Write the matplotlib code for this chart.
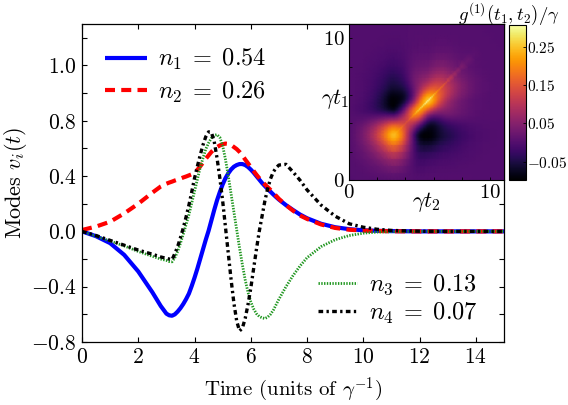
import numpy as np
import matplotlib
matplotlib.use("Agg")
import matplotlib.pyplot as plt

plt.rcParams.update({
    "font.family": "serif",
    "font.serif": ["cmr10", "DejaVu Serif"],
    "mathtext.fontset": "cm",
    "axes.unicode_minus": False,
    "axes.formatter.use_mathtext": True,
})

# ---------------- data ----------------
t = [0.0, 0.5, 1.0, 1.5, 2.0, 2.5, 2.8,
     3.0, 3.1, 3.2, 3.3, 3.4, 3.5, 3.6, 3.7, 3.8, 3.9,
     4.0, 4.1, 4.2, 4.3, 4.4, 4.5, 4.6, 4.7, 4.8, 4.9,
     5.0, 5.1, 5.2, 5.3, 5.4, 5.5, 5.6, 5.7, 5.8, 5.9,
     6.0, 6.1, 6.2, 6.3, 6.4, 6.5, 6.6, 6.7, 6.8, 6.9,
     7.0, 7.25, 7.5, 7.75, 8.0, 8.5, 9.0, 9.5, 10.0, 10.5, 11.0,
     12.0, 13.0, 14.0, 15.0]

mode1 = [0.0, -0.035, -0.085, -0.17, -0.29, -0.44, -0.54,
         -0.595, -0.607, -0.61, -0.60, -0.58, -0.555, -0.525, -0.49, -0.45, -0.395,
         -0.335, -0.27, -0.20, -0.13, -0.06, 0.005, 0.08, 0.155, 0.225, 0.285,
         0.34, 0.385, 0.42, 0.448, 0.468, 0.48, 0.487, 0.487, 0.48, 0.466,
         0.447, 0.425, 0.40, 0.375, 0.35, 0.328, 0.307, 0.287, 0.267, 0.248,
         0.23, 0.19, 0.155, 0.122, 0.095, 0.055, 0.03, 0.016, 0.008, 0.004, 0.002,
         0.0, 0.0, 0.0, 0.0]

mode2 = [0.01, 0.035, 0.07, 0.13, 0.20, 0.28, 0.325,
         0.345, 0.353, 0.36, 0.368, 0.375, 0.382, 0.39, 0.397, 0.405, 0.413,
         0.425, 0.445, 0.47, 0.497, 0.525, 0.55, 0.575, 0.595, 0.61, 0.622,
         0.63, 0.635, 0.633, 0.625, 0.61, 0.595, 0.575, 0.55, 0.52, 0.493,
         0.465, 0.437, 0.41, 0.385, 0.36, 0.34, 0.32, 0.30, 0.28, 0.257,
         0.235, 0.19, 0.15, 0.115, 0.09, 0.05, 0.025, 0.012, 0.006, 0.003, 0.001,
         0.0, 0.0, 0.0, 0.0]

mode3 = [0.0, -0.035, -0.07, -0.105, -0.145, -0.18, -0.20,
         -0.21, -0.218, -0.22, -0.19, -0.145, -0.085, -0.02, 0.05, 0.12, 0.205,
         0.29, 0.375, 0.46, 0.53, 0.595, 0.64, 0.675, 0.695, 0.70, 0.68,
         0.62, 0.52, 0.40, 0.27, 0.14, 0.01, -0.12, -0.24, -0.35, -0.44,
         -0.51, -0.56, -0.595, -0.615, -0.625, -0.63, -0.62, -0.60, -0.57, -0.53,
         -0.49, -0.40, -0.32, -0.25, -0.19, -0.11, -0.06, -0.03, -0.013, -0.005, -0.002,
         0.0, 0.0, 0.0, 0.0]

mode4 = [0.0, -0.03, -0.065, -0.10, -0.135, -0.165, -0.185,
         -0.195, -0.20, -0.205, -0.16, -0.11, -0.045, 0.025, 0.105, 0.19, 0.285,
         0.385, 0.47, 0.55, 0.625, 0.685, 0.72, 0.715, 0.65, 0.53, 0.385,
         0.22, 0.03, -0.16, -0.35, -0.52, -0.65, -0.72, -0.70, -0.63, -0.53,
         -0.41, -0.27, -0.13, 0.0, 0.11, 0.22, 0.31, 0.38, 0.43, 0.46,
         0.48, 0.485, 0.43, 0.37, 0.30, 0.19, 0.11, 0.055, 0.03, 0.015, 0.007,
         0.001, 0.0, 0.0, 0.0]

# extra narrow ridge seen along the diagonal of the g(1) map
diag_ridge = [0.0, 0.0, 0.0, 0.0, 0.0, 0.0, 0.0,
              0.0, 0.0, 0.0, 0.005, 0.01, 0.015, 0.02, 0.02, 0.02, 0.02,
              0.02, 0.025, 0.025, 0.03, 0.03, 0.03, 0.035, 0.04, 0.045, 0.05,
              0.05, 0.055, 0.06, 0.06, 0.065, 0.065, 0.065, 0.06, 0.06, 0.055,
              0.05, 0.05, 0.045, 0.045, 0.04, 0.04, 0.04, 0.04, 0.04, 0.04,
              0.04, 0.04, 0.035, 0.03, 0.025, 0.015, 0.005, 0.0, 0.0, 0.0, 0.0,
              0.0, 0.0, 0.0, 0.0]

occupations = [0.54, 0.26, 0.13, 0.07]
labels = [r"$n_1\;=\;0.54$", r"$n_2\;=\;0.26$", r"$n_3\;=\;0.13$", r"$n_4\;=\;0.07$"]

xticks = [0, 2, 4, 6, 8, 10, 12, 14]
yticks = [-0.8, -0.4, 0.0, 0.4, 0.8, 1.2]
ytick_labels = ["-0.8", "-0.4", "0.0", "0.4", "0.8", "1.0"]
cbar_ticks = [-0.05, 0.05, 0.15, 0.25]

# ---------------- figure ----------------
W, H = 568, 405
fig = plt.figure(figsize=(W / 100, H / 100), dpi=100)
ax = fig.add_axes([82 / W, 1 - 342 / H, 422 / W, 318 / H])

tt = np.array(t)
l1, = ax.plot(tt, mode1, color="#0000ff", lw=3.0, solid_capstyle="butt")
l2, = ax.plot(tt, mode2, color="#ff0000", lw=3.0, ls=(0, (2.4, 1.5)))
l3, = ax.plot(tt, mode3, color="#1f961f", lw=2.0, ls=(0, (0.5, 0.5)))
l4, = ax.plot(tt, mode4, color="k", lw=2.4, ls=(0, (1.4, 1.0, 0.7, 1.0)))

ax.set_xlim(0, 15)
ax.set_ylim(-0.8, 1.5)
ax.set_xticks(xticks)
ax.set_xticklabels([f"${v}$" for v in xticks])
ax.set_yticks(yticks)
ax.set_yticklabels([f"${s}$" for s in ytick_labels])
ax.set_yticks(np.array([-0.6, -0.2, 0.2, 0.6, 1.0, 1.4]), minor=True)
ax.tick_params(which="both", direction="in", top=True, right=True,
               length=3.5, width=0.8, labelsize=15.5, pad=4)
for s in ax.spines.values():
    s.set_linewidth(0.9)

ax.set_xlabel(r"Time (units of $\gamma^{-1}$)", fontsize=15)
ax.set_ylabel(r"Modes $v_i(t)$", fontsize=16)
ax.xaxis.set_label_coords(0.5, -0.106)
ax.yaxis.set_label_coords(-0.125, 0.5)

leg1 = ax.legend([l1, l2], labels[:2], loc="upper left",
                 bbox_to_anchor=(0.054, 0.927), frameon=False, fontsize=17.5,
                 handlelength=1.75, handletextpad=0.45, labelspacing=0.3,
                 borderpad=0, borderaxespad=0)
ax.add_artist(leg1)
leg2 = ax.legend([l3, l4], labels[2:], loc="lower right",
                 bbox_to_anchor=(0.938, 0.05), frameon=False, fontsize=17.5,
                 handlelength=1.6, handletextpad=0.5, labelspacing=0.15,
                 borderpad=0, borderaxespad=0)

# ---------------- inset: g(1)(t1, t2) ----------------
axin = fig.add_axes([349 / W, 1 - 180 / H, 155 / W, 156 / H])
mask = tt <= 11.0
tg = tt[mask]
modes = np.array([mode1, mode2, mode3, mode4])[:, mask]
G = sum(n * np.outer(v, v) for n, v in zip(occupations, modes))
G = G + np.diag(np.array(diag_ridge)[mask])
mesh = axin.pcolormesh(tg, tg, G, shading="gouraud", cmap="inferno",
                       vmin=-0.098, vmax=0.307, rasterized=True)
axin.set_xlim(0, 11)
axin.set_ylim(0, 11)
axin.set_xticks([0, 2, 4, 6, 8, 10])
axin.set_xticklabels(["$0$", "", "", "", "", "$10$"])
axin.set_yticks([0, 2, 4, 6, 8, 10])
axin.set_yticklabels(["$0$", "", "", "", "", "$10$"])
axin.tick_params(direction="in", length=2.5, width=0.6, labelsize=15, pad=3)
axin.set_xlabel(r"$\gamma t_2$", fontsize=16)
axin.set_ylabel(r"$\gamma t_1$", fontsize=16, rotation=0)
axin.xaxis.set_label_coords(0.5, -0.065)
axin.yaxis.set_label_coords(0.0, 0.52)
axin.yaxis.label.set_horizontalalignment("right")
axin.yaxis.label.set_verticalalignment("center")

cax = fig.add_axes([509 / W, 1 - 180 / H, 16.5 / W, 155 / H])
cb = fig.colorbar(mesh, cax=cax, ticks=cbar_ticks)
cb.ax.set_yticklabels([f"${v:.2f}$" if v > 0 else "${-}0.05$" for v in cbar_ticks])
cb.ax.tick_params(direction="in", length=2, width=0.6, labelsize=11, pad=1.0)
cb.outline.set_linewidth(0.8)
fig.text(509 / W, 1 - 14 / H, r"$g^{(1)}(t_1,t_2)/\gamma$", fontsize=13.5,
         ha="center", va="center")

fig.savefig("out.png", dpi=100)
